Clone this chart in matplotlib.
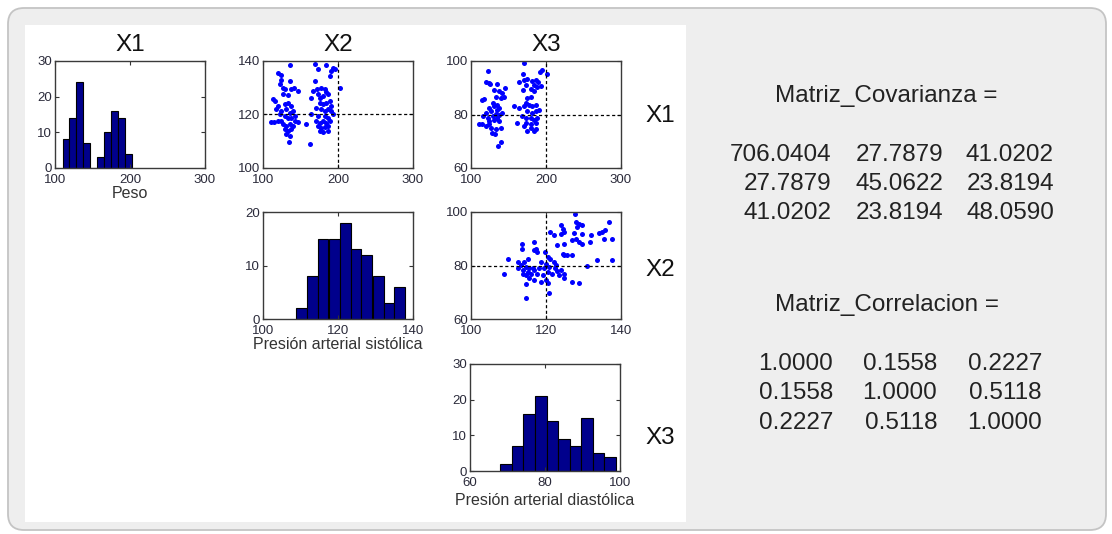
import matplotlib
matplotlib.use("Agg")
import matplotlib.pyplot as plt
from matplotlib.patches import FancyBboxPatch, Rectangle
from matplotlib.transforms import IdentityTransform

plt.rcParams['font.family'] = ['Liberation Sans', 'DejaVu Sans']

# ---- data ----
# histogram of X1 (Peso)
peso_centers = [114.65, 123.95, 133.25, 142.55, 151.85, 161.15, 170.45, 179.75, 189.05, 198.35]
peso_counts = [8, 14, 24, 7, 0, 3, 10, 16, 14, 4]
peso_width = 9.3

# histogram of X2 (presion sistolica)
sist_centers = [110.2, 113.1, 116.0, 119.0, 121.9, 124.8, 127.7, 130.7, 133.6, 136.5]
sist_counts = [2, 8, 15, 15, 18, 13, 12, 8, 3, 6]
sist_width = 2.93

# histogram of X3 (presion diastolica)
diast_centers = [69.6, 72.7, 75.8, 78.9, 82.0, 85.0, 88.1, 91.2, 94.3, 97.4]
diast_counts = [2, 7, 16, 21, 14, 9, 7, 15, 5, 4]
diast_width = 3.08

# scatter X1 vs X2
s12_x = [136.4, 120, 123.6, 124.4, 122.2, 135.6, 126.7, 128.9, 137.8, 140.9, 146.7, 113.3, 116.4,
         126.7, 133.3, 120, 117.8, 128.9, 133.3, 137.8, 124.4, 131.1, 135.6, 140, 128.9, 133.3,
         137.8, 142.2, 110.2, 114.7, 120, 124.4, 126.7, 131.1, 135.6, 140, 146.7, 128.9, 133.3,
         137.8, 131.1, 135.6, 134.7, 157.8, 162.2, 122.2, 142.2,
         169.8, 173.3, 184.4, 193.3, 196.4, 190.2, 168.9, 188.9, 202.2, 166.7, 172.4, 177.8, 182.2,
         184.4, 164.4, 173.3, 175.6, 180, 186.7, 175.6, 180, 184.4, 188.9, 191.1, 171.1, 177.8,
         182.2, 186.7, 190.2, 164.4, 173.3, 182.2, 186.7, 193.3, 171.1, 175.6, 180, 184.4, 188.9,
         173.3, 177.8, 182.2, 186.7, 175.6, 180, 186.7]
s12_y = [138.5, 135.4, 134.6, 132.9, 131.3, 132.5, 130, 129.4, 129.4, 130, 128.8, 125.7, 125,
         127.5, 127.2, 123.2, 121.9, 123.8, 124.4, 123.2, 121.3, 121.9, 120.7, 121.3, 119.4, 118.8,
         118.8, 119.4, 117.2, 117.2, 117.6, 117.6, 116.3, 115.7, 116.3, 115.7, 117.2, 114.5, 113.8,
         114.5, 112.6, 112, 109.7, 116.3, 108.8, 120, 117.6,
         138.8, 136.9, 138.4, 137.5, 136.9, 136.3, 132.5, 134.4, 130, 128.8, 129.4, 130, 129.4,
         128.4, 126.3, 127.5, 126.3, 126.9, 127.5, 124.4, 123.8, 124.4, 125, 123.2, 122.6, 121.9,
         121.3, 121.9, 121.3, 120, 119.4, 119.4, 118.8, 120, 117.6, 116.9, 117.6, 116.9, 117.6,
         115.7, 115.1, 115.5, 115.7, 113.8, 113.5, 113.8]

# scatter X1 vs X3
s13_x = [123, 119.9, 123.4, 125.2, 135.3, 130.9, 137.5, 141.1, 145.5, 133.1, 139.7, 144.2, 114.6,
         117.7, 128.7, 135.3, 124.3, 130.9, 135.3, 137.5, 119.9, 126.5, 133.1, 137.5, 141.9, 115.5,
         122.1, 128.7, 135.3, 124.3, 130.9, 137.5, 110.2, 114.6, 119.9, 124.3, 126.5, 133.1, 139.7,
         127.8, 132.2, 139.7, 136.2,
         170.6, 169.3, 191.4, 194, 201.5, 164, 170.6, 175.1, 181.7, 186.1, 189.6, 172.8, 183.9,
         188.3, 192.7, 169.3, 179.5, 183.9, 175.1, 179.5, 157.4, 164, 170.6, 172.8, 177.3, 181.7,
         186.1, 175.1, 181.7, 186.1, 190.5, 168.4, 172.8, 179.5, 183.9, 188.3, 161.8, 172.8, 179.5,
         186.1, 170.6, 179.5, 186.1, 175.1, 183.9]
s13_y = [96.3, 92.3, 91.9, 91.4, 91.4, 89.2, 88.6, 87.9, 89.8, 86.7, 86.1, 86.7, 85.5,
         85.7, 84.3, 83.6, 82.4, 83, 81.8, 82.4, 80.6, 81.2, 80.3, 80, 80.6, 79.3,
         78.7, 79.3, 78.7, 77.5, 77.9, 77.5, 76.3, 76.3, 75.6, 76.3, 75, 74.4, 75,
         73.2, 72.6, 69.7, 68.3,
         99.3, 95.3, 95.9, 96.6, 95.3, 92.3, 92.9, 93.1, 92.6, 92.9, 92.3, 91, 91,
         90.4, 90.7, 89.2, 89.4, 88.9, 86.1, 86.7, 83, 82.4, 83, 84.3, 83.6, 83,
         83.6, 81.2, 80.6, 81.2, 81.8, 79.3, 78.7, 78.7, 78.1, 78.7, 76.9, 76.9, 76.3,
         76.9, 75.6, 75, 74.4, 73.8, 73.8]

# scatter X2 vs X3
s23_x = [127.7, 127.9, 128.8, 129.7, 128.3, 136.7, 121.1, 122, 123.9, 124.4, 124.8, 123.9, 127.5,
         129.7, 131.9, 134.1, 135, 135.6, 127, 127.9, 128.8, 129.7, 131.7, 135.4, 137.6, 122.9,
         124.8, 124.4, 124.8, 125.7, 127, 113.6, 113.6, 116.7, 116.7, 117.3, 117.7, 115.1, 114.2,
         119.7, 120.4, 121.1, 109.8, 118.6, 120, 122, 122.6, 112.5, 113.3, 114.7, 115.5, 116.4,
         112.5, 113.8, 115.1, 116.9, 118.2, 119.5, 120.8, 122.3, 123, 123.9, 108.7, 113.8, 114.7,
         116, 117.7, 119.1, 120.4, 121.7, 123.5, 124.8, 115.5, 116.9, 118.6, 120, 124.8, 126.8,
         128.8, 114.7, 120.4, 130.8, 133.6, 137.6, 120.8, 114.7]
s23_y = [99.3, 96.2, 95.6, 95.2, 94.3, 96.2, 92.5, 91.5, 95.2, 93.5, 92.5, 91.9, 92.2,
         91.9, 91.5, 92.2, 92.5, 93.1, 89.4, 90, 88.8, 88.1, 88.8, 90, 90, 87.5,
         88.1, 84.4, 83.8, 83.8, 83.8, 88.1, 86.3, 88.8, 85.7, 86.3, 85.1, 82.6, 81.4,
         85.1, 83.2, 82.6, 82.3, 81.4, 80.7, 81.4, 80.1, 81.4, 80.1, 79.5, 78.9, 79.1,
         78.9, 78.3, 77.7, 78.3, 78.9, 79.1, 79.5, 78.9, 77.9, 78.3, 77, 77, 76.4,
         76.7, 77, 76.4, 77.7, 77, 76.4, 77, 75.2, 74.6, 74, 74.6, 75.2, 74,
         73.3, 72.9, 73.3, 79.9, 82, 82.2, 69.6, 68]

# reference (dashed) lines
ref_peso = 200
ref_sist = 120
ref_diast = 80

var_names = ["X1", "X2", "X3"]
cov_matrix = [[706.0404, 27.7879, 41.0202],
              [27.7879, 45.0622, 23.8194],
              [41.0202, 23.8194, 48.0590]]
corr_matrix = [[1.0000, 0.1558, 0.2227],
               [0.1558, 1.0000, 0.5118],
               [0.2227, 0.5118, 1.0000]]

# ---- layout (pixel based) ----
W, H = 1112, 534
fig = plt.figure(figsize=(W / 100, H / 100), dpi=100, facecolor='white')

# rounded grey frame and white plotting panel
frame = FancyBboxPatch((8, 4), 1098, 522, boxstyle="round,pad=0,rounding_size=16",
                       transform=IdentityTransform(), facecolor='#eeeeee',
                       edgecolor='#c4c4c4', lw=1.3, zorder=-3)
fig.patches.append(frame)
panel = Rectangle((25, H - 522), 661, 497, transform=IdentityTransform(),
                  facecolor='white', edgecolor='none', zorder=-2)
fig.patches.append(panel)


def add_ax(left, top, w=150, h=107):
    return fig.add_axes([left / W, 1 - (top + h) / H, w / W, h / H])


def style(ax, xlim, ylim, xticks, yticks):
    ax.set_xlim(xlim)
    ax.set_ylim(ylim)
    ax.set_xticks(xticks)
    ax.set_yticks(yticks)
    ax.tick_params(direction='in', top=True, right=True, length=3, width=0.8,
                   labelsize=9.5, pad=2, labelcolor='#2a2a3a', color='#333333')
    ax.tick_params(axis='x', pad=4)
    for s in ax.spines.values():
        s.set_color('#3a3a3a')
        s.set_linewidth(1.0)


bar_kw = dict(color='#00008c', edgecolor='black', linewidth=0.8)
dot_kw = dict(marker='o', ms=3.6, mew=0, color='#0000ff', linestyle='none')
dash_kw = dict(color='black', linestyle=(0, (2.5, 2)), linewidth=0.9)
col_left = [55, 263, 471]
row_top = [61, 212, 364]

# diagonal histograms
ax11 = add_ax(col_left[0], row_top[0])
ax11.bar(peso_centers, peso_counts, width=peso_width, **bar_kw)
style(ax11, (100, 300), (0, 30), [100, 200, 300], [0, 10, 20, 30])
ax11.set_xlabel("Peso", fontsize=11.5, color='#333333', labelpad=0)

ax22 = add_ax(col_left[1], row_top[1])
ax22.bar(sist_centers, sist_counts, width=sist_width, **bar_kw)
style(ax22, (100, 140), (0, 20), [100, 120, 140], [0, 10, 20])
ax22.set_xlabel("Presión arterial sistólica", fontsize=11.5, color='#333333', labelpad=0)

ax33 = add_ax(col_left[2] - 1, row_top[2])
ax33.bar(diast_centers, diast_counts, width=diast_width, **bar_kw)
style(ax33, (60, 100), (0, 30), [60, 80, 100], [0, 10, 20, 30])
ax33.set_xlabel("Presión arterial diastólica", fontsize=11.5, color='#333333', labelpad=3)

# scatter plots
ax12 = add_ax(col_left[1], row_top[0])
ax12.plot(s12_x, s12_y, **dot_kw)
ax12.axvline(ref_peso, **dash_kw)
ax12.axhline(ref_sist, **dash_kw)
style(ax12, (100, 300), (100, 140), [100, 200, 300], [100, 120, 140])

ax13 = add_ax(col_left[2], row_top[0])
ax13.plot(s13_x, s13_y, **dot_kw)
ax13.axvline(ref_peso, **dash_kw)
ax13.axhline(ref_diast, **dash_kw)
style(ax13, (100, 300), (60, 100), [100, 200, 300], [60, 80, 100])

ax23 = add_ax(col_left[2], row_top[1])
ax23.plot(s23_x, s23_y, **dot_kw)
ax23.axvline(ref_sist, **dash_kw)
ax23.axhline(ref_diast, **dash_kw)
style(ax23, (100, 140), (60, 100), [100, 120, 140], [60, 80, 100])

# column titles and row labels
for ax, name in zip([ax11, ax12, ax13], var_names):
    ax.set_title(name, fontsize=17.5, color='#111111', pad=7)
for y, name in zip([116, 270, 438], var_names):
    fig.text(660 / W, 1 - y / H, name, fontsize=17.5, color='#111111', ha='center', va='center')

# covariance / correlation text
txt = dict(fontsize=17.5, color='#222222', va='center')
fig.text(886 / W, 1 - 96 / H, "Matriz_Covarianza =", ha='center', **txt)
cov_right = [831, 943, 1054]
for r, y in enumerate([155, 184, 213]):
    for c, xr in enumerate(cov_right):
        fig.text(xr / W, 1 - y / H, "%.4f" % cov_matrix[r][c], ha='right', **txt)

fig.text(887 / W, 1 - 305 / H, "Matriz_Correlacion =", ha='center', **txt)
corr_right = [833, 937, 1042]
for r, y in enumerate([364, 393, 423]):
    for c, xr in enumerate(corr_right):
        fig.text(xr / W, 1 - y / H, "%.4f" % corr_matrix[r][c], ha='right', **txt)

fig.savefig("out.png", dpi=100, facecolor=fig.get_facecolor())
